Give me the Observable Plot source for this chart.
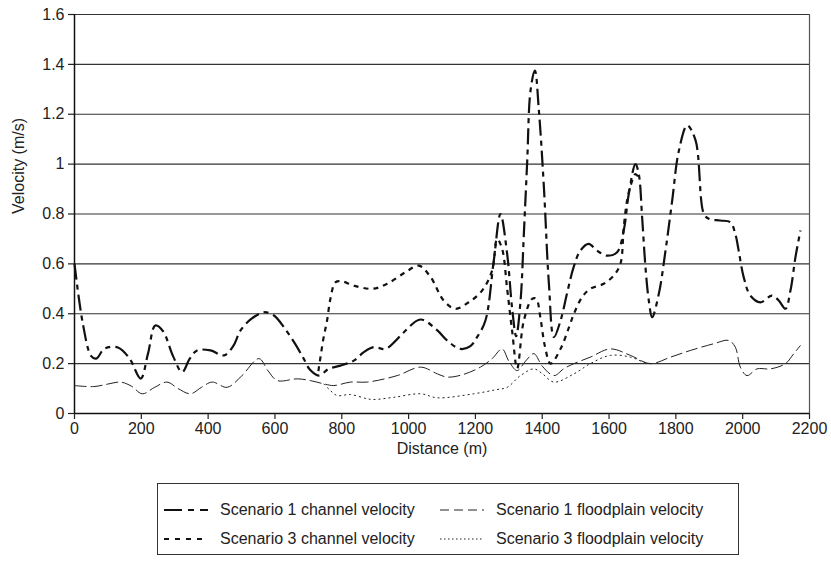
<!DOCTYPE html>
<html>
<head>
<meta charset="utf-8">
<script src="https://cdn.jsdelivr.net/npm/d3@7"></script>
<script src="https://cdn.jsdelivr.net/npm/@observablehq/plot@0.6"></script>
<style>
  html, body { margin: 0; padding: 0; background: #fff; }
  body { width: 831px; height: 563px; position: relative; overflow: hidden; font-family: "Liberation Sans", Arial, sans-serif; }
  #legend { position: absolute; left: 157px; top: 483px; width: 582px; height: 72px; border: 1px solid #333; box-sizing: border-box; font-size: 16px; color: #222; }
  .item { position: absolute; display: flex; align-items: center; height: 20px; }
  .item svg { margin-right: 12px; }
</style>
</head>
<body>
<div id="chart"></div>
<div id="legend"></div>
<script>
// ---- data (distance in m, velocity in m/s) ----
const xTicks = [0, 200, 400, 600, 800, 1000, 1200, 1400, 1600, 1800, 2000, 2200];
const yTicks = [0, 0.2, 0.4, 0.6, 0.8, 1, 1.2, 1.4, 1.6];

const s1ChannelDist = [0, 25, 50, 65, 90, 130, 165, 198, 220, 242, 265, 295, 322, 345, 367, 407, 447, 475, 497, 530, 567, 597, 630, 660, 686, 705, 731, 761, 796, 836, 866, 896, 931, 960, 986, 1036, 1086, 1115, 1155, 1185, 1205, 1230, 1255, 1275, 1295, 1310, 1322, 1335, 1345, 1355, 1365, 1378, 1390, 1405, 1420, 1435, 1455, 1474, 1494, 1514, 1539, 1564, 1594, 1624, 1644, 1659, 1679, 1689, 1699, 1709, 1719, 1729, 1749, 1769, 1789, 1809, 1834, 1859, 1884, 1900, 1933, 1963, 1978, 1988, 2003, 2023, 2053, 2088, 2108, 2128, 2143, 2158, 2173];
const s1ChannelVel = [0.60, 0.36, 0.23, 0.22, 0.26, 0.265, 0.22, 0.14, 0.24, 0.353, 0.33, 0.23, 0.166, 0.22, 0.253, 0.253, 0.233, 0.27, 0.333, 0.38, 0.406, 0.393, 0.34, 0.28, 0.22, 0.175, 0.152, 0.179, 0.192, 0.212, 0.246, 0.266, 0.259, 0.29, 0.326, 0.377, 0.333, 0.293, 0.259, 0.27, 0.306, 0.373, 0.613, 0.80, 0.64, 0.42, 0.31, 0.45, 0.72, 1.01, 1.295, 1.375, 1.215, 0.907, 0.52, 0.306, 0.373, 0.48, 0.587, 0.653, 0.68, 0.653, 0.633, 0.647, 0.734, 0.88, 1.0, 0.96, 0.787, 0.587, 0.453, 0.386, 0.48, 0.653, 0.854, 1.054, 1.155, 1.095, 0.80, 0.78, 0.774, 0.767, 0.72, 0.653, 0.547, 0.473, 0.446, 0.473, 0.453, 0.42, 0.493, 0.627, 0.734];

const s3ChannelDist = [730, 745, 756, 766, 781, 800, 836, 891, 936, 991, 1031, 1066, 1105, 1140, 1180, 1220, 1250, 1265, 1280, 1295, 1310, 1325, 1345, 1370, 1382, 1395, 1408, 1425, 1455, 1480, 1495, 1519, 1544, 1584, 1614, 1634, 1644, 1654, 1666, 1679, 1692];
const s3ChannelVel = [0.17, 0.30, 0.373, 0.46, 0.526, 0.53, 0.513, 0.50, 0.52, 0.567, 0.593, 0.547, 0.453, 0.42, 0.446, 0.493, 0.573, 0.70, 0.66, 0.50, 0.33, 0.18, 0.373, 0.46, 0.46, 0.38, 0.27, 0.20, 0.26, 0.345, 0.40, 0.466, 0.50, 0.52, 0.553, 0.60, 0.747, 0.854, 0.92, 0.96, 0.94];

const s1FloodDist = [0, 58, 100, 138, 170, 203, 240, 277, 310, 347, 380, 412, 457, 500, 552, 580, 607, 667, 706, 746, 776, 826, 876, 966, 1036, 1086, 1115, 1160, 1215, 1250, 1280, 1300, 1325, 1350, 1375, 1400, 1435, 1465, 1495, 1544, 1604, 1664, 1724, 1784, 1844, 1914, 1958, 1978, 1993, 2013, 2043, 2083, 2128, 2153, 2173];
const s1FloodVel = [0.112, 0.108, 0.118, 0.126, 0.11, 0.079, 0.105, 0.126, 0.10, 0.079, 0.105, 0.126, 0.105, 0.15, 0.22, 0.17, 0.132, 0.139, 0.132, 0.119, 0.112, 0.126, 0.126, 0.152, 0.186, 0.159, 0.146, 0.155, 0.186, 0.22, 0.259, 0.21, 0.172, 0.21, 0.24, 0.19, 0.152, 0.18, 0.20, 0.226, 0.259, 0.233, 0.20, 0.226, 0.253, 0.28, 0.293, 0.266, 0.186, 0.152, 0.179, 0.179, 0.20, 0.24, 0.273];

const s3FloodDist = [746, 766, 786, 826, 876, 896, 956, 1036, 1086, 1195, 1260, 1295, 1335, 1375, 1400, 1435, 1495, 1544, 1604, 1664, 1704, 1724];
const s3FloodVel = [0.119, 0.092, 0.072, 0.076, 0.059, 0.056, 0.065, 0.079, 0.063, 0.079, 0.095, 0.105, 0.152, 0.179, 0.16, 0.126, 0.159, 0.20, 0.233, 0.226, 0.206, 0.20];

const seriesNames = ["Scenario 1 channel velocity", "Scenario 1 floodplain velocity", "Scenario 3 channel velocity", "Scenario 3 floodplain velocity"];

// ---- styles ----
const styles = {
  "Scenario 1 channel velocity":    {strokeWidth: 2.2, dash: "16,5,5,5", legendDash: "18,6,6,6", color: "#111"},
  "Scenario 1 floodplain velocity": {strokeWidth: 1,   dash: "12,4",     legendDash: "9,5",      color: "#222"},
  "Scenario 3 channel velocity":    {strokeWidth: 2.2, dash: "5,5",      legendDash: "5,6",      color: "#111"},
  "Scenario 3 floodplain velocity": {strokeWidth: 1,   dash: "2,3",      legendDash: "1.5,2.5",  color: "#222"}
};

const toRows = (ds, vs) => ds.map((d, i) => ({d, v: vs[i]}));
const series = {
  "Scenario 1 channel velocity": toRows(s1ChannelDist, s1ChannelVel),
  "Scenario 1 floodplain velocity": toRows(s1FloodDist, s1FloodVel),
  "Scenario 3 channel velocity": toRows(s3ChannelDist, s3ChannelVel),
  "Scenario 3 floodplain velocity": toRows(s3FloodDist, s3FloodVel)
};

const lineMarks = seriesNames.map(name => Plot.line(series[name], {
  x: "d", y: "v", curve: "catmull-rom",
  stroke: styles[name].color, strokeWidth: styles[name].strokeWidth,
  strokeDasharray: styles[name].dash, strokeLinecap: "butt"
}));

const chart = Plot.plot({
  width: 831,
  height: 470,
  marginLeft: 74,
  marginRight: 22,
  marginTop: 14,
  marginBottom: 57,
  style: {fontFamily: "'Liberation Sans', Arial, sans-serif", fontSize: "16px", color: "#222", background: "white", overflow: "visible"},
  x: {domain: [0, 2200]},
  y: {domain: [0, 1.6]},
  marks: [
    Plot.ruleY(yTicks, {stroke: "#333", strokeWidth: 1.2}),
    Plot.ruleX([2200], {stroke: "#555", strokeWidth: 1.2}),
    ...lineMarks,
    Plot.ruleX([0], {stroke: "#111", strokeWidth: 1.5}),
    Plot.ruleY([0], {stroke: "#111", strokeWidth: 1.5}),
    Plot.axisX({ticks: xTicks, tickFormat: d => String(d), label: null, tickSize: 6, tickPadding: 3, strokeWidth: 1.2}),
    Plot.axisY({ticks: yTicks, tickFormat: d => String(+d.toFixed(1)), label: null, tickSize: 6, tickPadding: 4, strokeWidth: 1.2}),
    Plot.text(["Distance (m)"], {frameAnchor: "bottom", dy: 40, fontSize: 16, fill: "#222"}),
    Plot.text(["Velocity (m/s)"], {frameAnchor: "left", dx: -56, rotate: -90, fontSize: 16, fill: "#222"})
  ]
});
document.getElementById("chart").appendChild(chart);

// ---- legend ----
const legend = document.getElementById("legend");
const positions = {
  "Scenario 1 channel velocity":    {left: 6, top: 16},
  "Scenario 1 floodplain velocity": {left: 282, top: 16},
  "Scenario 3 channel velocity":    {left: 6, top: 45},
  "Scenario 3 floodplain velocity": {left: 282, top: 45}
};
seriesNames.forEach(name => {
  const s = styles[name];
  const item = document.createElement("div");
  item.className = "item";
  item.style.left = positions[name].left + "px";
  item.style.top = positions[name].top + "px";
  item.innerHTML = `<svg width="44" height="10"><line x1="0" y1="5" x2="44" y2="5" stroke="${s.color}" stroke-width="${s.strokeWidth}" stroke-dasharray="${s.legendDash}"/></svg><span>${name}</span>`;
  legend.appendChild(item);
});
</script>
</body>
</html>
